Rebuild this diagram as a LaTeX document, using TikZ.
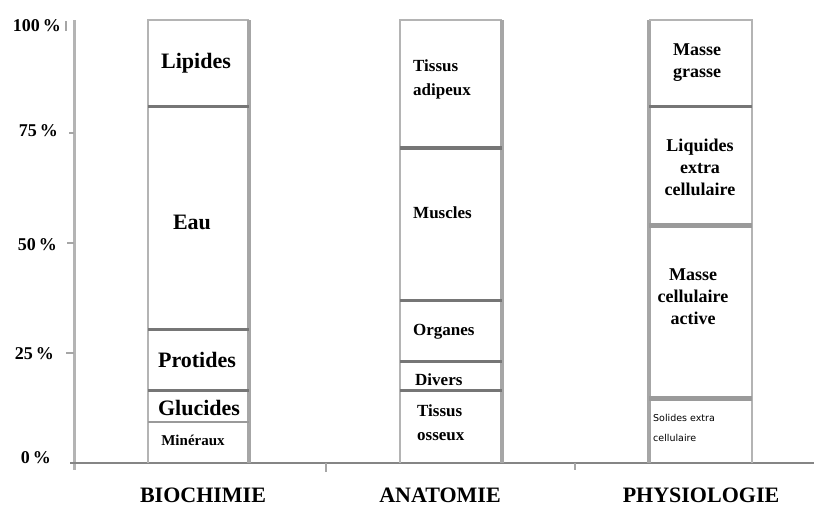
\documentclass[tikz,border=0pt]{standalone}
\usepackage{fontspec}
\setmainfont{Liberation Serif}
\newfontfamily\solfont{DejaVu Sans}
\definecolor{edgegrey}{HTML}{B4B4B4}
\definecolor{sidegrey}{HTML}{A6A6A6}
\definecolor{divgrey}{HTML}{767676}
\definecolor{divlight}{HTML}{9A9A9A}
\definecolor{axisgrey}{HTML}{858585}
\tikzset{
  edge/.style={draw=edgegrey, line width=2pt},
  side/.style={draw=sidegrey, line width=4pt},
  divider/.style={draw=divgrey, line width=3pt},
  divthick/.style={draw=divgrey, line width=4pt},
  divpale/.style={draw=divlight, line width=5pt},
  tickmark/.style={draw=sidegrey, line width=2pt},
  pct/.style={font=\fontsize{18}{20}\selectfont\bfseries, anchor=east, inner sep=0pt},
  cat/.style={font=\fontsize{22}{24}\selectfont\bfseries, inner sep=0pt},
  bio/.style={font=\fontsize{22}{24}\selectfont\bfseries, inner sep=0pt},
  ana/.style={font=\fontsize{17}{24}\selectfont\bfseries, inner sep=0pt, anchor=west, align=left},
  phy/.style={font=\fontsize{18}{22}\selectfont\bfseries, inner sep=0pt, align=center},
}
\begin{document}
\begin{tikzpicture}[x=1pt,y=-1pt]
\useasboundingbox[fill=white] (0,0) rectangle (814,507);
% axes
\coordinate (ytop) at (74,20);
\coordinate (ybot) at (74,470);
\coordinate (xl) at (70,463);
\coordinate (xr) at (814,463);
\draw[draw=edgegrey, line width=3pt] (ytop) -- (ybot);
\draw[draw=axisgrey, line width=2pt] (xl) -- (xr);
\draw[tickmark] (66,21) -- (66,31);
\draw[tickmark] (69,133) -- (74,133);
\draw[tickmark] (67,243) -- (74,243);
\draw[tickmark] (66,353) -- (74,353);
\draw[tickmark] (326,463) -- (326,472);
\draw[tickmark] (575,463) -- (575,470);
% percentage labels
\node[pct] (p100) at (61,26) {100\,\%};
\node[pct] (p75) at (58,131) {75\,\%};
\node[pct] (p50) at (57,245) {50\,\%};
\node[pct] (p25) at (54,354) {25\,\%};
\node[pct] (p0) at (51,458) {0\,\%};
% ---------- BIOCHIMIE ----------
\draw[edge] (148,463) -- (148,20) -- (249,20);
\draw[side] (249,20) -- (249,463);
\draw[divider] (148,106) -- (249,106);
\draw[divider] (148,329) -- (249,329);
\draw[divider] (148,390) -- (249,390);
\draw[draw=divlight, line width=2pt] (148,422) -- (249,422);
\node[bio] (lip) at (196,63) {Lipides};
\node[bio] (eau) at (192,222) {Eau};
\node[bio] (pro) at (197,360) {Protides};
\node[bio] (glu) at (199,408) {Glucides};
\node[font=\fontsize{15}{17}\selectfont\bfseries, inner sep=0pt] (min) at (193,440) {Minéraux};
\node[cat] (biochimie) at (203,495) {BIOCHIMIE};
% ---------- ANATOMIE ----------
\draw[edge] (400,463) -- (400,20) -- (502,20);
\draw[side] (502,20) -- (502,463);
\draw[divthick] (400,148) -- (502,148);
\draw[divider] (400,300) -- (502,300);
\draw[divider] (400,361) -- (502,361);
\draw[divider] (400,390) -- (502,390);
\node[ana] (adi) at (413,79) {Tissus\\adipeux};
\node[ana] (mus) at (413,213) {Muscles};
\node[ana] (org) at (413,332) {Organes};
\node[ana] (div) at (415,380) {Divers};
\node[ana] (oss) at (417,423) {Tissus\\osseux};
\node[cat] (anatomie) at (440,495) {ANATOMIE};
% ---------- PHYSIOLOGIE ----------
\draw[side] (649,463) -- (649,20);
\draw[edge] (649,20) -- (752,20) -- (752,463);
\draw[divider] (649,106) -- (752,106);
\draw[divpale] (649,225) -- (752,225);
\draw[divpale] (649,398) -- (752,398);
\node[phy] (mg) at (697,63) {Masse\\grasse};
\node[phy] (liq) at (700,167) {Liquides\\extra\\cellulaire};
\node[phy] (mca) at (693,297) {Masse\\cellulaire\\active};
\node[font=\solfont\fontsize{9.5}{20}\selectfont, inner sep=0pt, anchor=west, align=left] (sol) at (653,428) {Solides extra\\cellulaire};
\node[cat] (physiologie) at (701,495) {PHYSIOLOGIE};
\end{tikzpicture}
\end{document}
